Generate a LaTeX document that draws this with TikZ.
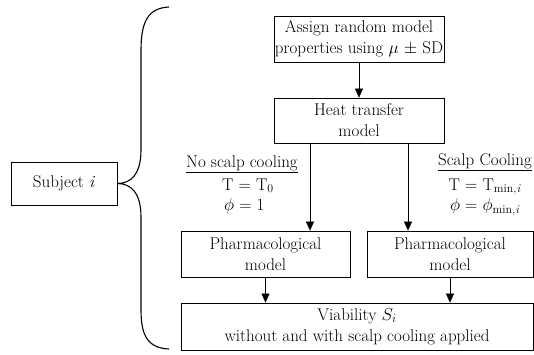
\documentclass[tikz,border=0pt]{standalone}
\usepackage{fontspec}
\usetikzlibrary{arrows.meta}
\begin{document}
\begin{tikzpicture}[x=1pt,y=-1pt,->,>={Triangle[width=8pt,length=9pt]},
  box/.style={draw,line width=0.8pt,align=center,inner sep=0pt,font=\fontsize{17}{21}\selectfont},
  lbl/.style={inner sep=0pt,font=\fontsize{17}{21}\selectfont}]
\useasboundingbox (0,0) rectangle (534,354);
\node[box,minimum width=106pt,minimum height=43pt] (subj) at (64,183.5) {Subject \textit{i}};
\node[box,minimum width=170pt,minimum height=46pt] (assign) at (359,39) {Assign random model\\properties using $\mu$ \raisebox{.1ex}{$\pm$} SD};
\node[box,minimum width=170pt,minimum height=45pt] (heat) at (359,120.5) {Heat transfer\\model};
\node[box,minimum width=169pt,minimum height=46pt] (pharmL) at (265.5,254) {Pharmacological\\model};
\node[box,minimum width=166pt,minimum height=46pt] (pharmR) at (450,254) {Pharmacological\\model};
\node[box,minimum width=352pt,minimum height=47pt] (viab) at (357,326.5) {Viability $S_i$\\without and with scalp cooling applied};
% labels of the two branches
\node[lbl] (nocool) at (242,164) {\underline{No scalp cooling}};
\node[lbl,anchor=west] (nocoolT) at (222,186) {T = T\textsubscript{0}};
\node[lbl,anchor=west] (nocoolP) at (224,206) {$\phi$ = 1};
\node[lbl] (cool) at (485,162) {\underline{Scalp Cooling}};
\node[lbl] (coolT) at (485,187) {T = T\textsubscript{min,\textit{i}}};
\node[lbl] (coolP) at (485,207) {$\phi$ = $\phi$\textsubscript{min,\textit{i}}};
\coordinate (hl) at (310,143);
\coordinate (hr) at (408,143);
\coordinate (btop) at (169,7);
\coordinate (bbot) at (169,349);
\draw (assign) -- (heat);
\draw (hl) -- (hl |- pharmL.north);
\draw (hr) -- (hr |- pharmR.north);
\draw (pharmL) -- (pharmL.south |- viab.north);
\draw (pharmR) -- (pharmR.south |- viab.north);
% brace
\draw[-,line width=1.1pt] (btop) .. controls (148,8) and (141,22) .. (141,50) -- (141,150)
  .. controls (141,174) and (131,183.5) .. (subj.east)
  .. controls (131,183.5) and (141,193) .. (141,217) -- (141,310)
  .. controls (141,336) and (148,348) .. (bbot);
\end{tikzpicture}
\end{document}
